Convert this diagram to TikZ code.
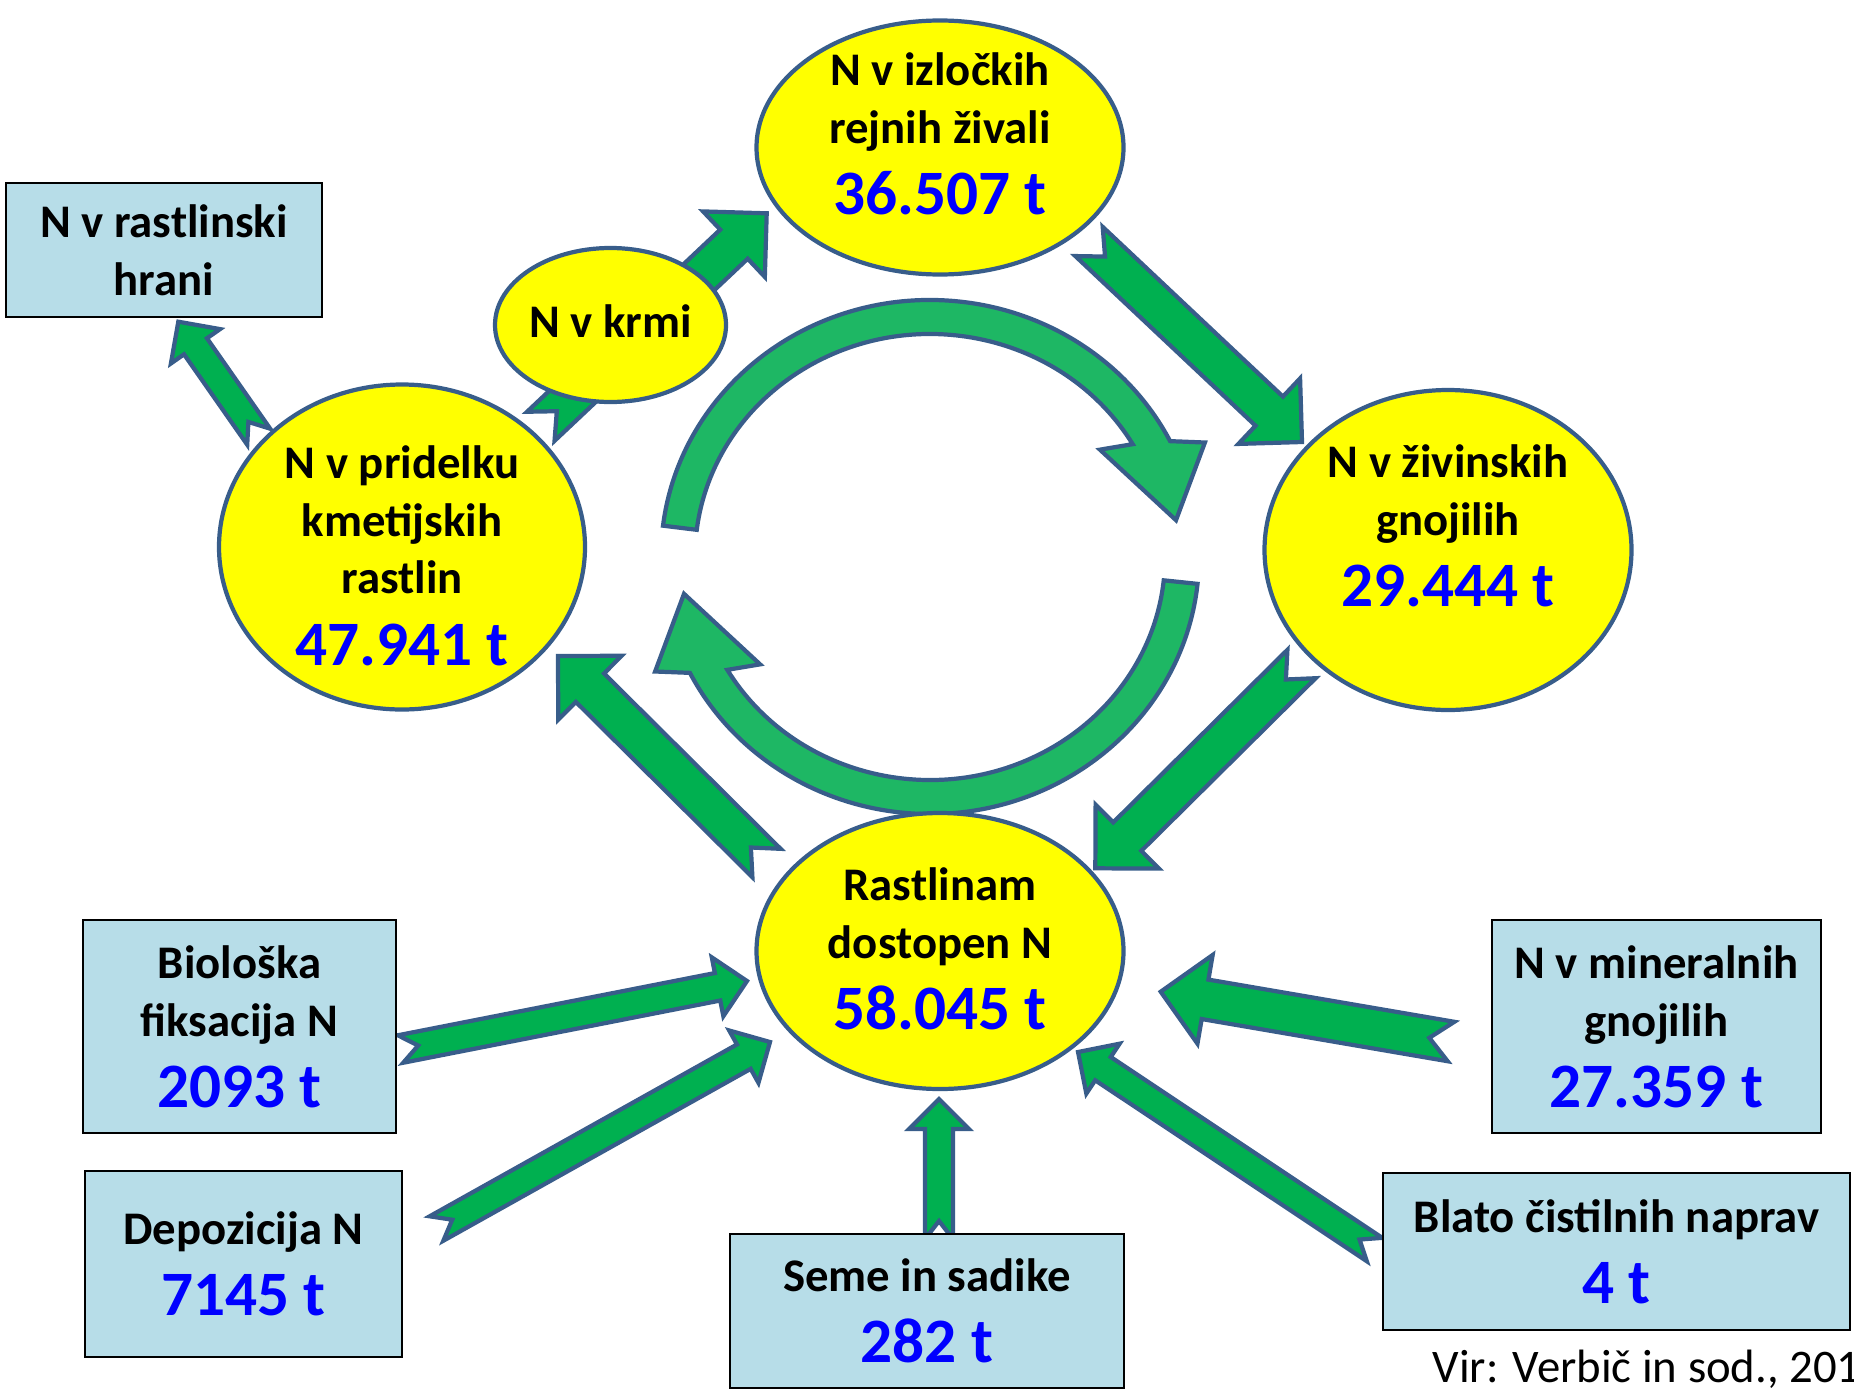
\documentclass[tikz,border=0pt]{standalone}
\usepackage{fontspec}
\setmainfont{Carlito}
\usetikzlibrary{shapes.geometric,calc,backgrounds}

\definecolor{edge}{RGB}{56,93,138}
\definecolor{pool}{RGB}{255,255,0}
\definecolor{flowgreen}{RGB}{0,176,80}
\definecolor{loopgreen}{RGB}{30,183,100}
\definecolor{boxblue}{RGB}{183,221,232}
\definecolor{valblue}{RGB}{0,0,255}

\newcommand{\lblfont}{\fontsize{13.3}{16.5}\selectfont\bfseries}
\newcommand{\val}[1]{{\fontsize{18}{21}\selectfont\color{valblue}#1}}

% notched block arrow: tail, tip, half shaft, half head, head length, notch
\newcommand{\blockarrow}[6]{%
  \coordinate (neck) at ($(#2)!#5!(#1)$);
  \draw[flow] ($(#1)!#6!(#2)$) -- ($(#1)!#3!90:(#2)$) -- ($(neck)!#3!90:(#2)$)
    -- ($(neck)!#4!90:(#2)$) -- (#2) -- ($(neck)!#4!-90:(#2)$)
    -- ($(neck)!#3!-90:(#2)$) -- ($(#1)!#3!-90:(#2)$) -- cycle;
}
\newcommand{\bigarrow}[2]{\blockarrow{#1}{#2}{0.2cm}{0.45cm}{0.45cm}{0.22cm}}
\newcommand{\smallarrow}[2]{\blockarrow{#1}{#2}{0.14cm}{0.3cm}{0.3cm}{0.18cm}}

\begin{document}
\begin{tikzpicture}[
  oval/.style={ellipse, draw=edge, fill=pool, line width=1.2pt, inner sep=0pt},
  box/.style={rectangle, draw=black, fill=boxblue, line width=0.6pt, align=center, font=\lblfont},
  lbl/.style={align=center, font=\lblfont},
  flow/.style={draw=edge, fill=flowgreen, line width=1.2pt},
  looparrow/.style={draw=edge, fill=loopgreen, line width=1.2pt}]
\useasboundingbox (0,0) rectangle (18.54,13.90);

% Yellow pools
\node[oval, minimum width=3.67cm, minimum height=2.54cm] (izl) at (9.40,12.425) {};
\node[lbl] (izl-t) at (9.40,12.56) {N v izločkih\\rejnih živali\\[3.8pt]\val{36.507 t}};
\node[oval, minimum width=2.31cm, minimum height=1.54cm] (krm) at (6.105,10.65) {};
\node[lbl] (krm-t) at (6.105,10.685) {N v krmi};
\node[oval, minimum width=3.66cm, minimum height=3.25cm] (pri) at (4.02,8.43) {};
\node[lbl] (pri-t) at (4.02,8.345) {N v pridelku\\kmetijskih\\rastlin\\[3.8pt]\val{47.941 t}};
\node[oval, minimum width=3.67cm, minimum height=3.20cm] (ziv) at (14.48,8.40) {};
\node[lbl] (ziv-t) at (14.48,8.64) {N v živinskih\\gnojilih\\[3.8pt]\val{29.444 t}};
\node[oval, minimum width=3.67cm, minimum height=2.76cm] (dos) at (9.40,4.39) {};
\node[lbl] (dos-t) at (9.40,4.415) {Rastlinam\\dostopen N\\[3.8pt]\val{58.045 t}};

% Sources and sinks
\node[box, minimum width=3.16cm, minimum height=1.34cm] (hra) at (1.64,11.40) {N v rastlinski\\hrani};
\node[box, minimum width=3.13cm, minimum height=2.13cm] (bio) at (2.395,3.635) {Biološka\\fiksacija N\\[3.8pt]\val{2093 t}};
\node[box, minimum width=3.17cm, minimum height=1.86cm] (dep) at (2.435,1.26) {Depozicija N\\[3.8pt]\val{7145 t}};
\node[box, minimum width=3.94cm, minimum height=1.54cm] (sem) at (9.27,0.79) {Seme in sadike\\[3.8pt]\val{282 t}};
\node[box, minimum width=3.29cm, minimum height=2.13cm] (min) at (16.565,3.635) {N v mineralnih\\gnojilih\\[3.8pt]\val{27.359 t}};
\node[box, minimum width=4.67cm, minimum height=1.57cm] (bla) at (16.165,1.385) {Blato čistilnih naprav\\[3.8pt]\val{4 t}};

\node[anchor=base west, inner sep=0pt, font=\fontsize{13.3}{16}\selectfont] (vir) at (14.32,0.08) {Vir: Verbič in sod., 201};

% Arrow ends
\coordinate (mid) at (9.30,8.33);
\coordinate (pri-out) at (2.587,9.533);   \coordinate (hra-in) at (1.783,10.683);
\coordinate (pri-up) at (5.408,9.637);    \coordinate (izl-in) at (7.667,11.767);
\coordinate (izl-out) at (10.89,11.485);  \coordinate (ziv-in) at (13.02,9.48);
\coordinate (ziv-out) at (13.015,7.26);   \coordinate (dos-in1) at (10.953,5.217);
\coordinate (dos-out) at (7.665,5.27);    \coordinate (pri-in) at (5.58,7.34);
\coordinate (min-out) at (14.51,3.485);   \coordinate (dos-in2) at (11.607,3.983);
\coordinate (bio-out) at (4.005,3.41);    \coordinate (dos-in3) at (7.47,4.09);
\coordinate (dep-out) at (4.365,1.615);   \coordinate (dos-in4) at (7.70,3.48);
\coordinate (sem-out) at (9.39,1.51);     \coordinate (dos-in5) at (9.39,2.91);
\coordinate (bla-out) at (13.745,1.405);  \coordinate (dos-in6) at (10.78,3.38);

\begin{scope}[on background layer]
% Cycle arrows
\foreach \rot/\beg in {0/173,180/174} {
  \begin{scope}[shift={(mid)}, rotate=\rot]
    \draw[looparrow] (\beg:2.69 and 2.57) arc[start angle=\beg, end angle=26.8, x radius=2.69, y radius=2.57]
      -- (23.6:3.00 and 2.86) -- (8.9:2.49 and 2.38) -- (33.6:2.04 and 1.94)
      -- (30.4:2.35 and 2.23) arc[start angle=30.4, end angle=\beg, x radius=2.35, y radius=2.23] -- cycle;
  \end{scope}
}
% Flows
\foreach \s/\e in {pri-up/izl-in, izl-out/ziv-in, ziv-out/dos-in1, dos-out/pri-in, min-out/dos-in2}
  \bigarrow{\s}{\e};
\foreach \s/\e in {pri-out/hra-in, bio-out/dos-in3, dep-out/dos-in4, sem-out/dos-in5, bla-out/dos-in6}
  \smallarrow{\s}{\e};
\end{scope}
\end{tikzpicture}
\end{document}
